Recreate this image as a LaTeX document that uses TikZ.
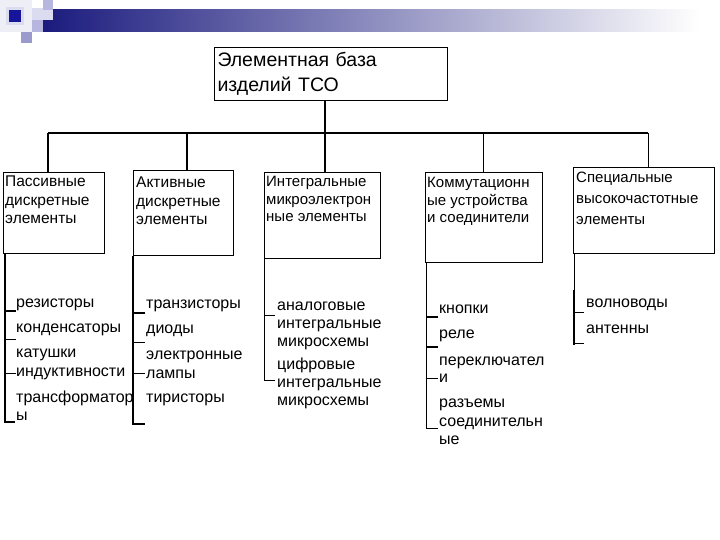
\documentclass[tikz,border=0pt]{standalone}
\usepackage{fontspec}
\setmainfont{Liberation Sans}
\usetikzlibrary{positioning}
\definecolor{barnavy}{HTML}{1B1B7E}
\definecolor{sqdark}{HTML}{16169A}
\definecolor{sqmid}{HTML}{9A9ACC}
\definecolor{sqlight}{HTML}{B6B6DE}
\definecolor{sqpale}{HTML}{DCDCF0}
\definecolor{sqfaint}{HTML}{EEEEF7}

\begin{document}
\begin{tikzpicture}[x=1pt,y=-1pt,
    topbox/.style={draw,line width=1pt,anchor=north west,minimum width=233pt,minimum height=53pt,
      text width=227pt,inner xsep=3pt,align=left,font=\fontsize{19.5}{25}\selectfont},
    catbox/.style={draw,line width=1pt,anchor=north west,inner sep=0pt},
    cattext/.style={anchor=north west,inner sep=0pt,align=left,font=\fontsize{15.5}{18.5}\selectfont},
    item/.style={anchor=base west,inner sep=0pt,font=\fontsize{16}{18}\selectfont},
    thk/.style={line width=2pt},
    thn/.style={line width=0.9pt}]
  \useasboundingbox (0,0) rectangle (720,540);
  \fill[white] (0,0) rectangle (720,540);

  % title bar and squares
  \fill[sqfaint] (0,0) rectangle (32,32);
  \shade[left color=barnavy,right color=white] (43,10) rectangle (700,32);
  \fill[sqpale] (32,8) rectangle (53,20);
  \fill[sqlight] (43,0) rectangle (53,10);
  \fill[sqlight] (32,20) rectangle (43,32);
  \fill[sqmid] (21,32) rectangle (32,43);
  \fill[sqpale] (6,7) rectangle (24,25);
  \fill[sqdark] (9,10) rectangle (21,22);

  % root
  \node[topbox] (base) at (214,47) {Элементная база\\изделий ТСО};

  % groups
  \node[catbox,minimum width=101pt,minimum height=81pt] (pas) at (3,172) {};
  \node[catbox,minimum width=100pt,minimum height=85pt] (act) at (133,170) {};
  \node[catbox,minimum width=116pt,minimum height=86pt] (int) at (264,172) {};
  \node[catbox,minimum width=117pt,minimum height=90pt] (kom) at (425,172) {};
  \node[catbox,minimum width=141pt,minimum height=86pt] (spe) at (573,167) {};

  \node[cattext] (pas-t) at ([xshift=2pt,yshift=-4pt]pas.north west) {Пассивные\\дискретные\\элементы};
  \node[cattext] (act-t) at ([xshift=3pt,yshift=-7pt]act.north west) {Активные\\дискретные\\элементы};
  \node[cattext,font=\fontsize{15}{17.5}\selectfont] (int-t) at ([xshift=2pt,yshift=-4pt]int.north west) {Интегральные\\микроэлектрон\\ные элементы};
  \node[cattext,font=\fontsize{15}{17.5}\selectfont] (kom-t) at ([xshift=2pt,yshift=-5pt]kom.north west) {Коммутационн\\ые устройства\\и соединители};
  \node[cattext,font=\fontsize{15}{21}\selectfont] (spe-t) at ([xshift=3pt,yshift=-5pt]spe.north west) {Специальные\\высокочастотные\\элементы};

  % tree lines
  \coordinate (bus) at (325,133);
  \draw[line width=2.2pt] (bus |- base.south) -- (bus);
  \foreach \b/\dx in {pas/48,act/187,int/325,kom/483,spe/648}
    \coordinate (d-\b) at (\dx,133);
  \draw[line width=1.4pt] (d-pas) -- (d-spe);
  \foreach \b in {pas,act,int}
    \draw[thk] (d-\b) -- (d-\b |- \b.north);
  \foreach \b in {kom,spe}
    \draw[thn] (d-\b) -- (d-\b |- \b.north);

  % passive
  \draw[thk] ([xshift=2pt]pas.south west) -- (5,422) -- (15,422);
  \foreach \yy/\st in {311/thk,339/thn,373/thn}
    \draw[\st] (5,\yy) -- ++(11,0);
  \foreach \txt/\yy [count=\i] in {резисторы/307,конденсаторы/332,катушки/357,индуктивности/376,трансформатор/402,ы/420}
    \node[item] (pas-\i) at (16,\yy) {\txt};

  % active
  \draw[thk] (act.south west) -- (133,424) -- (145,424);
  \foreach \yy/\st in {313/thk,342/thn,373/thn}
    \draw[\st] (133,\yy) -- ++(12,0);
  \foreach \txt/\yy [count=\i] in {транзисторы/308,диоды/333,электронные/359,лампы/378,тиристоры/402}
    \node[item] (act-\i) at (146,\yy) {\txt};

  % integrated
  \draw[thn] (int.south west) -- (264,380) -- (275,380);
  \draw[thn] (264,315) -- ++(11,0);
  \foreach \txt/\yy [count=\i] in {аналоговые/310,интегральные/328,микросхемы/346,цифровые/369,интегральные/387,микросхемы/405}
    \node[item] (int-\i) at (277,\yy) {\txt};

  % switching
  \draw[thn] ([xshift=1pt]kom.south west) -- (426,428) -- (438,428);
  \foreach \yy/\st in {317/thk,347/thk,378/thn}
    \draw[\st] (426,\yy) -- ++(12,0);
  \foreach \txt/\yy [count=\i] in {кнопки/313,реле/338,переключател/365,и/382,разъемы/407,соединительн/426,ые/444}
    \node[item] (kom-\i) at (439,\yy) {\txt};

  % high frequency
  \draw[thn] ([xshift=1pt]spe.south west) -- (574,290);
  \draw[thk] (574,290) -- (574,345);
  \foreach \yy in {312,343}
    \draw[thn] (574,\yy) -- ++(10,0);
  \foreach \txt/\yy [count=\i] in {волноводы/307,антенны/333}
    \node[item] (spe-\i) at (586,\yy) {\txt};
\end{tikzpicture}
\end{document}
